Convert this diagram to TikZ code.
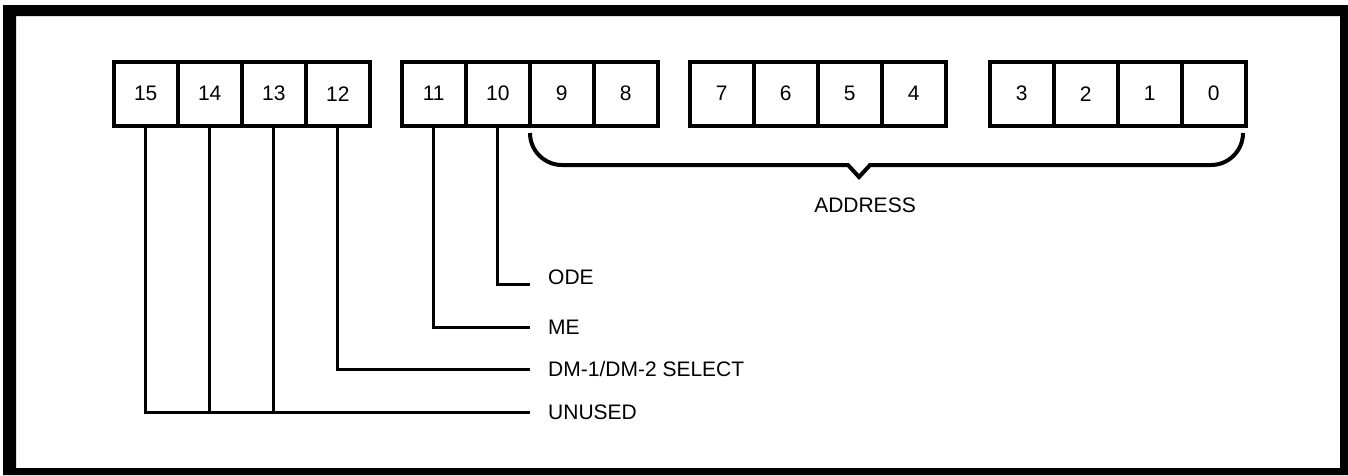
\documentclass[tikz,border=0pt]{standalone}
\usepackage{fontspec}
\setmainfont{Liberation Sans}
\begin{document}
\begin{tikzpicture}[x=1pt,y=-1pt,
  bitbox/.style={draw,line width=3.5pt,minimum width=64pt,minimum height=64pt,inner sep=0pt,anchor=north west,font=\fontsize{21}{24}\selectfont},
  conn/.style={line width=3pt},
  brace/.style={line width=4pt,line join=miter},
  lbl/.style={anchor=base west,inner sep=0pt,font=\fontsize{21}{24}\selectfont}]
\useasboundingbox (0,0) rectangle (1348,475);
% frame
\fill[even odd rule] (3,5) rectangle (1348,475) (16,16) rectangle (1340,468);
% bit boxes
\foreach \n/\x in {15/112,14/176,13/240,12/304,11/400,10/464,9/528,8/592,7/688,6/752,5/816,4/880,3/988,2/1052,1/1116,0/1180}
  \node[bitbox] (b\n) at (\x,60) {\n};
% label end points
\coordinate (eode) at (530,284);
\coordinate (eme) at (530,327);
\coordinate (edm) at (530,369);
\coordinate (eun) at (530,412);
% labels
\node[lbl] (lode) at (548,284.5) {ODE};
\node[lbl] (lme) at (548,334.5) {ME};
\node[lbl] (ldm) at (548,376.5) {DM-1/DM-2 SELECT};
\node[lbl] (lun) at (548,419.5) {UNUSED};
% connectors
\draw[conn] (b10.south) |- (eode);
\draw[conn] (b11.south) |- (eme);
\draw[conn] (b12.south) |- (edm);
\draw[conn] (b15.south) |- (eun);
\draw[conn] (b14.south) -- (b14.south |- eun);
\draw[conn] (b13.south) -- (b13.south |- eun);
% address brace
\coordinate (bl) at (530,133);
\coordinate (br) at (1243,133);
\draw[brace] (bl) arc[start angle=180,end angle=90,radius=32]
  -- (848,165) -- (859,177) -- (870,165) -- (1211,165)
  arc[start angle=90,end angle=0,radius=32];
\node[anchor=base,inner sep=0pt,font=\fontsize{21}{24}\selectfont] (laddr) at (865,212.5) {ADDRESS};
\end{tikzpicture}
\end{document}
